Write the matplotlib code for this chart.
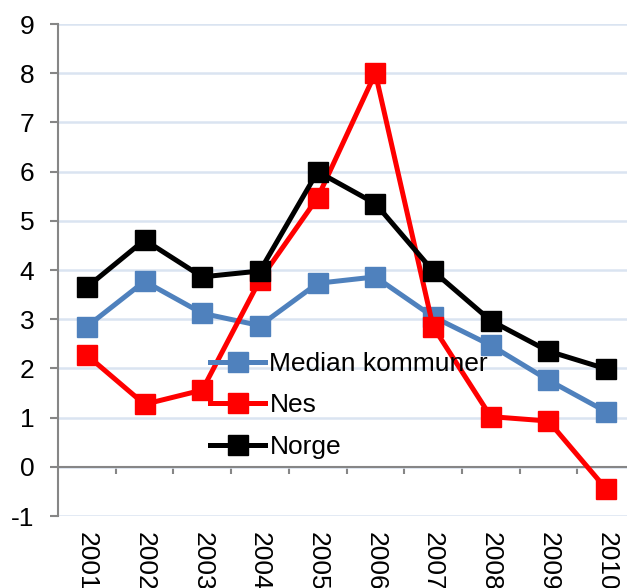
import numpy as np
import matplotlib.pyplot as plt
from matplotlib.ticker import MultipleLocator

plt.rcParams['font.family'] = ['Liberation Sans', 'DejaVu Sans']

# Données
years = ['2001', '2002', '2003', '2004', '2005', '2006', '2007', '2008', '2009', '2010']
median_kommuner = [2.85, 3.77, 3.12, 2.87, 3.73, 3.86, 3.05, 2.47, 1.76, 1.12]
nes = [2.27, 1.27, 1.56, 3.80, 5.47, 8.0, 2.85, 1.02, 0.93, -0.45]
norge = [3.65, 4.61, 3.86, 3.98, 6.0, 5.35, 3.98, 2.97, 2.35, 1.99]

x = np.arange(len(years))

fig = plt.figure(figsize=(6.27, 5.88), dpi=100)
ax = fig.add_axes([58/627, 72/588, 577/627, 492/588])

ax.plot(x, median_kommuner, color='#4f81bd', lw=3.6, marker='s', ms=14.5, label='Median kommuner', zorder=3)
ax.plot(x, nes, color='#ff0000', lw=3.6, marker='s', ms=14.5, label='Nes', zorder=4)
ax.plot(x, norge, color='black', lw=3.6, marker='s', ms=14.5, label='Norge', zorder=5)

ax.set_xlim(-0.5, 9.5)
ax.set_ylim(-1, 9)
ax.yaxis.set_major_locator(MultipleLocator(1))
ax.grid(axis='y', color='#dae4f1', lw=1.8, zorder=0)

# Axes
for s in ['top', 'right']:
    ax.spines[s].set_visible(False)
ax.spines['left'].set_color('#868686')
ax.spines['left'].set_linewidth(1.5)
ax.spines['bottom'].set_position(('data', 0))
ax.spines['bottom'].set_color('#868686')
ax.spines['bottom'].set_linewidth(1.5)

ax.set_xticks(x)
ax.set_xticklabels(years, rotation=270, fontsize=19)
ax.set_xticks(np.arange(0.5, 9.6, 1), minor=True)
ax.tick_params(axis='x', which='major', length=0, pad=47)
ax.tick_params(axis='x', which='minor', length=5, width=1.5, color='#868686')
ax.tick_params(axis='y', length=6, width=1.5, color='#868686', pad=11, labelsize=19)
ax.set_yticks(range(-1, 10))
ax.set_yticklabels([str(v) for v in range(-1, 10)])
for lbl in ax.get_xticklabels():
    lbl.set_va('top')
    lbl.set_ha('center')

leg = ax.legend(loc='upper left', bbox_to_anchor=(210/627, 1 - 352/588), bbox_transform=fig.transFigure,
                frameon=False, fontsize=19, handlelength=2.1, handletextpad=0.15,
                labelspacing=0.66, borderpad=0, borderaxespad=0)
leg.set_zorder(6)

fig.savefig('out.png', dpi=100)
